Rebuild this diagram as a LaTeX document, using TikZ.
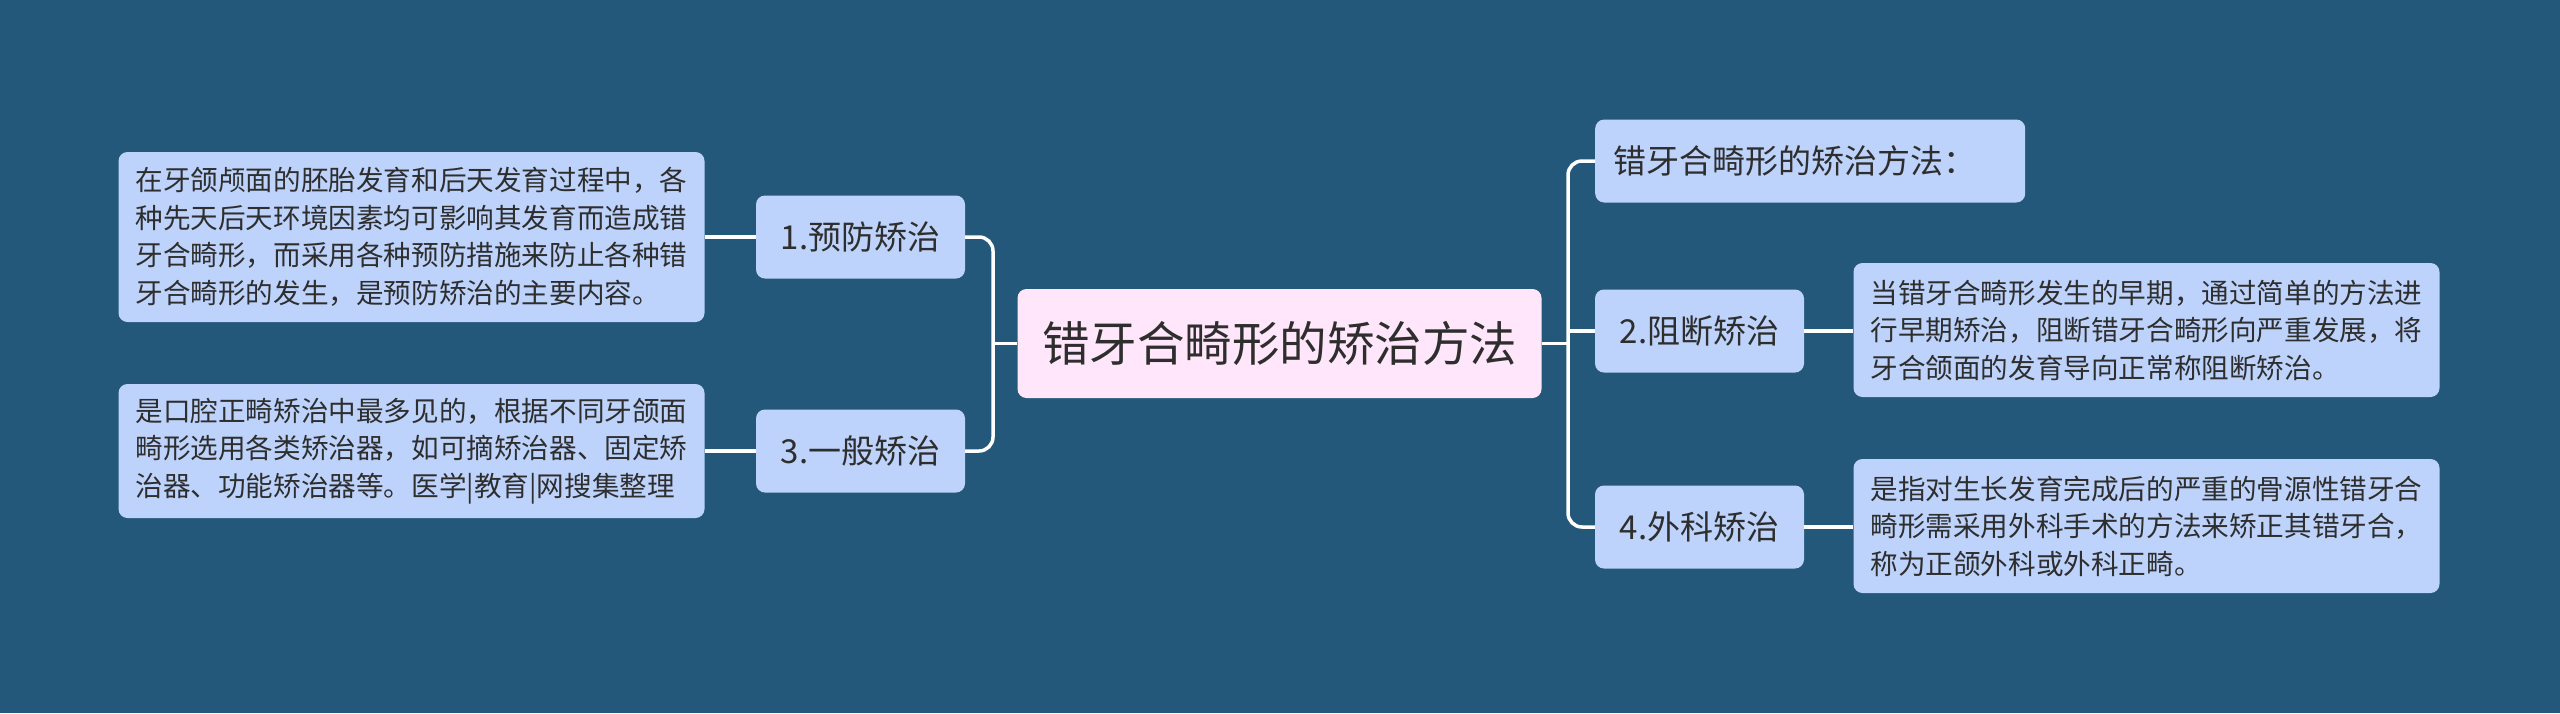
\documentclass[tikz,border=0pt]{standalone}
\usepackage{fontspec}
\setmainfont{Noto Sans CJK SC}
\definecolor{bgc}{HTML}{23587A}
\definecolor{leaffill}{HTML}{BED3FB}
\definecolor{rootfill}{HTML}{FFE6FA}
\definecolor{txt}{HTML}{2E2E2E}
\definecolor{linec}{HTML}{FFFFFF}
\begin{document}
\begin{tikzpicture}[x=1pt,y=-1pt,
  box/.style={rectangle, rounded corners=9pt, fill=leaffill, text=txt, inner sep=0pt},
  rootbox/.style={box, fill=rootfill, font=\fontsize{47.5}{56}\selectfont, minimum width=524pt, minimum height=109pt},
  childbox/.style={box, font=\fontsize{33}{40}\selectfont, minimum width=209pt, minimum height=83pt},
  leafbox/.style={box, font=\fontsize{27.6}{37.5}\selectfont, align=left, minimum width=586pt},
  conn/.style={draw=linec, line width=3.5pt, rounded corners=14pt}
]
\fill[bgc] (0,0) rectangle (2560,713);
\useasboundingbox (0,0) rectangle (2560,713);

\node[rootbox] (root) at (1279.5,343.5) {错牙合畸形的矫治方法};

\node[childbox] (c1) at (860.5,237) {1.预防矫治};
\node[childbox] (c3) at (860.5,451) {3.一般矫治};
\node[leafbox, minimum height=170pt] (l1) at (411.5,237) {在牙颌颅面的胚胎发育和后天发育过程中，各\\种先天后天环境因素均可影响其发育而造成错\\牙合畸形，而采用各种预防措施来防止各种错\\牙合畸形的发生，是预防矫治的主要内容。};
\node[leafbox, minimum height=134pt] (l3) at (411.5,451) {是口腔正畸矫治中最多见的，根据不同牙颌面\\畸形选用各类矫治器，如可摘矫治器、固定矫\\治器、功能矫治器等。医学|教育|网搜集整理};

\node[childbox, anchor=west, text width=394pt, inner xsep=18pt, align=left, minimum width=430pt] (r0) at (1595,161) {错牙合畸形的矫治方法：};
\node[childbox] (c2) at (1699.5,331) {2.阻断矫治};
\node[childbox] (c4) at (1699.5,527) {4.外科矫治};
\node[leafbox, minimum height=134pt] (l2) at (2146.5,330) {当错牙合畸形发生的早期，通过简单的方法进\\行早期矫治，阻断错牙合畸形向严重发展，将\\牙合颌面的发育导向正常称阻断矫治。};
\node[leafbox, minimum height=134pt] (l4) at (2146.5,526) {是指对生长发育完成后的严重的骨源性错牙合\\畸形需采用外科手术的方法来矫正其错牙合，\\称为正颌外科或外科正畸。};

\coordinate (tl) at (993,343.5);
\coordinate (tr) at (1568,343.5);

\begin{scope}[on background layer/.try]
\end{scope}
\draw[conn] (root.west) -- (tl);
\draw[conn] (c1.east) -| (tl) |- (c3.east);
\draw[conn] (root.east) -- (tr);
\draw[conn] (r0.west) -| (tr) |- (c4.west);
\draw[conn] (c2.west) -- (c2.west -| tr);
\draw[conn] (l1.east) -- (c1.west);
\draw[conn] (l3.east) -- (l3.east -| c3.west);
\draw[conn] (c2.east) -- (c2.east -| l2.west);
\draw[conn] (c4.east) -- (c4.east -| l4.west);
\end{tikzpicture}
\end{document}
